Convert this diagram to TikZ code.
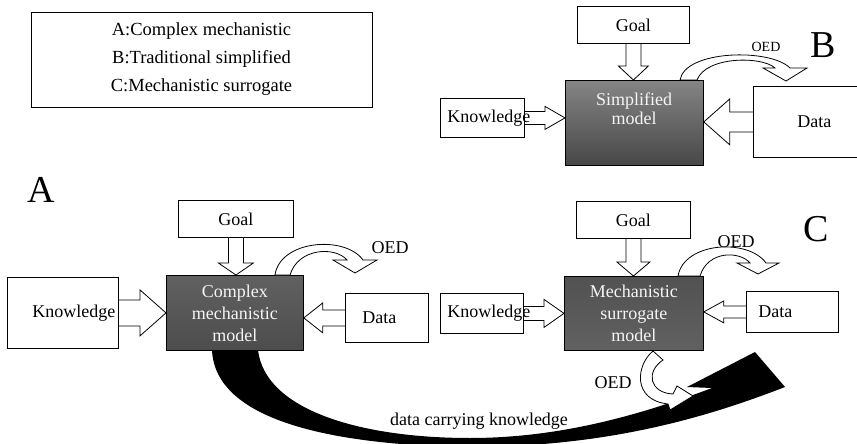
\documentclass[tikz,border=0pt]{standalone}
\usepackage{fontspec}
\setmainfont{Liberation Serif}
\usetikzlibrary{calc}
\tikzset{
  box/.style={draw=black, line width=0.8pt, inner sep=0pt, anchor=north west, fill=white, font=\fontsize{18}{22}\selectfont},
  modelbox/.style={box, text=gray!8, align=center},
  barrow/.style={draw=black, line width=0.8pt, line join=miter},
  oedarrow/.style={draw=black, line width=0.8pt, fill=white, line join=miter},
  lbl/.style={inner sep=0pt, font=\fontsize{18}{22}\selectfont},
  bigletter/.style={inner sep=0pt, font=\fontsize{38}{40}\selectfont},
}
% block arrow: #1 start, #2 tip, #3 shaft half width, #4 head half width, #5 head length
\newcommand{\blockarrow}[5]{%
  \coordinate (bahead) at ($(#2)!#5pt!(#1)$);
  \draw[barrow] ($(#1)!#3pt!90:(#2)$) -- ($(bahead)!#3pt!90:(#2)$) -- ($(bahead)!#4pt!90:(#2)$)
    -- (#2) -- ($(bahead)!#4pt!-90:(#2)$) -- ($(bahead)!#3pt!-90:(#2)$) -- ($(#1)!#3pt!-90:(#2)$);
}
\begin{document}
\begin{tikzpicture}[x=1pt,y=-1pt]
\useasboundingbox (0,0) rectangle (857,444);
\clip (0,0) rectangle (857,444);

% legend
\node[box, anchor=center, minimum width=341pt, minimum height=95pt, align=center,
      font=\fontsize{18.5}{28}\selectfont] (legend) at (201.5,59.5)
      {A:Complex mechanistic\\B:Traditional simplified\\C:Mechanistic surrogate};

% ---------------- B ----------------
\node[box, minimum width=112pt, minimum height=37pt] (goalB) at (577,6) {Goal};
\node[modelbox, minimum width=138pt, minimum height=85pt, top color=black!48, bottom color=black!72] (mB) at (565,80) {};
\node[lbl, text=gray!8, align=center, font=\fontsize{18}{19}\selectfont] (mBlabel) at (634,109) {Simplified\\model};
\node[box, minimum width=84pt, minimum height=39pt] (kB) at (440,98) {\makebox[84pt][l]{\hspace{7pt}Knowledge}};
\node[box, draw=none, minimum width=150pt, minimum height=71pt] (dB) at (753,86) {\makebox[150pt][l]{\hspace{44pt}Data}};
\draw[line width=0.8pt] (dB.north east) -- (dB.north west) -- (dB.south west) -- (dB.south east);
\coordinate (kBt) at (kB.east -| mB.west);
\coordinate (dBt) at (dB.west -| mB.east);
\coordinate (gBt) at (goalB.south |- mB.north);
\blockarrow{goalB.south}{gBt}{7.5}{15}{14}
\blockarrow{kB.east}{kBt}{6.5}{11.5}{20}
\blockarrow{dB.west}{dBt}{10}{23}{26}
\draw[oedarrow] (680,80) .. controls (685,50) and (770,48) .. (790,68) -- (807,68) -- (786,81) -- (763,68) -- (775,68)
  .. controls (762,56) and (706,56) .. (697,80) -- cycle;
\node[lbl, font=\fontsize{14}{16}\selectfont] (oedB) at (766,47) {OED};
\node[bigletter] (letB) at (823,45) {B};

% ---------------- A ----------------
\node[bigletter] (letA) at (41,190) {A};
\node[box, minimum width=115pt, minimum height=37pt] (goalA) at (178,200) {Goal};
\node[modelbox, minimum width=137pt, minimum height=75pt, top color=black!62, bottom color=black!70] (mA) at (166,275) {Complex\\mechanistic\\model};
\node[box, minimum width=111pt, minimum height=71pt] (kA) at (7,277) {\makebox[111pt][l]{\hspace{25pt}Knowledge}};
\node[box, minimum width=83pt, minimum height=49pt] (dA) at (345,293) {\makebox[83pt][l]{\hspace{17pt}Data}};
\coordinate (kAt) at (kA.east -| mA.west);
\coordinate (dAt) at (dA.west -| mA.east);
\coordinate (gAt) at (goalA.south |- mA.north);
\blockarrow{goalA.south}{gAt}{7.5}{17.5}{12}
\blockarrow{kA.east}{kAt}{13}{23}{26}
\blockarrow{dA.west}{dAt}{8}{15}{19}
\draw[oedarrow] (275,275) .. controls (280,240) and (345,235) .. (363,260) -- (377,260) -- (355,273) -- (333,260) -- (347,260)
  .. controls (335,246) and (298,248) .. (290,275) -- cycle;
\node[lbl] (oedA) at (390,248) {OED};

% ---------------- C ----------------
\node[box, minimum width=114pt, minimum height=37pt] (goalC) at (576,201) {Goal};
\node[modelbox, minimum width=139pt, minimum height=74pt, top color=black!68, middle color=black!50, bottom color=black!62] (mC) at (564,276) {Mechanistic\\surrogate\\model};
\node[box, minimum width=83pt, minimum height=40pt] (kC) at (440,293) {\makebox[83pt][l]{\hspace{7pt}Knowledge}};
\node[box, minimum width=92pt, minimum height=41pt] (dC) at (746,291) {\makebox[92pt][l]{\hspace{12pt}Data}};
\coordinate (kCt) at (kC.east -| mC.west);
\coordinate (dCt) at (dC.west -| mC.east);
\coordinate (gCt) at (goalC.south |- mC.north);
\blockarrow{goalC.south}{gCt}{7.5}{16.5}{14}
\blockarrow{kC.east}{kCt}{7}{14}{20}
\blockarrow{dC.west}{dCt}{6}{11}{20}
\draw[oedarrow] (678,276) .. controls (684,242) and (748,238) .. (766,263) -- (779,263) -- (758,274) -- (737,263) -- (750,263)
  .. controls (740,251) and (708,250) .. (700,276) -- cycle;
\node[lbl] (oedC) at (736,242) {OED};
\node[bigletter] (letC) at (816,229) {C};

% ---------------- bottom ----------------
\fill[black] (212,350) .. controls (215,420) and (330,444) .. (460,447) .. controls (600,448) and (700,420) .. (785,387)
  -- (755,352) -- (687,387) -- (712,388) .. controls (640,415) and (560,438) .. (470,438)
  .. controls (360,438) and (265,410) .. (258,350) -- cycle;
\draw[oedarrow] (653,351) .. controls (636,365) and (632,400) .. (668,404) -- (670,410) -- (693,396) -- (677,386) -- (673,394)
  .. controls (650,393) and (645,372) .. (663,360) -- cycle;
\node[lbl] (oedD) at (613,383) {OED};
\node[lbl] (dck) at (479,421) {data carrying knowledge};
\end{tikzpicture}
\end{document}
